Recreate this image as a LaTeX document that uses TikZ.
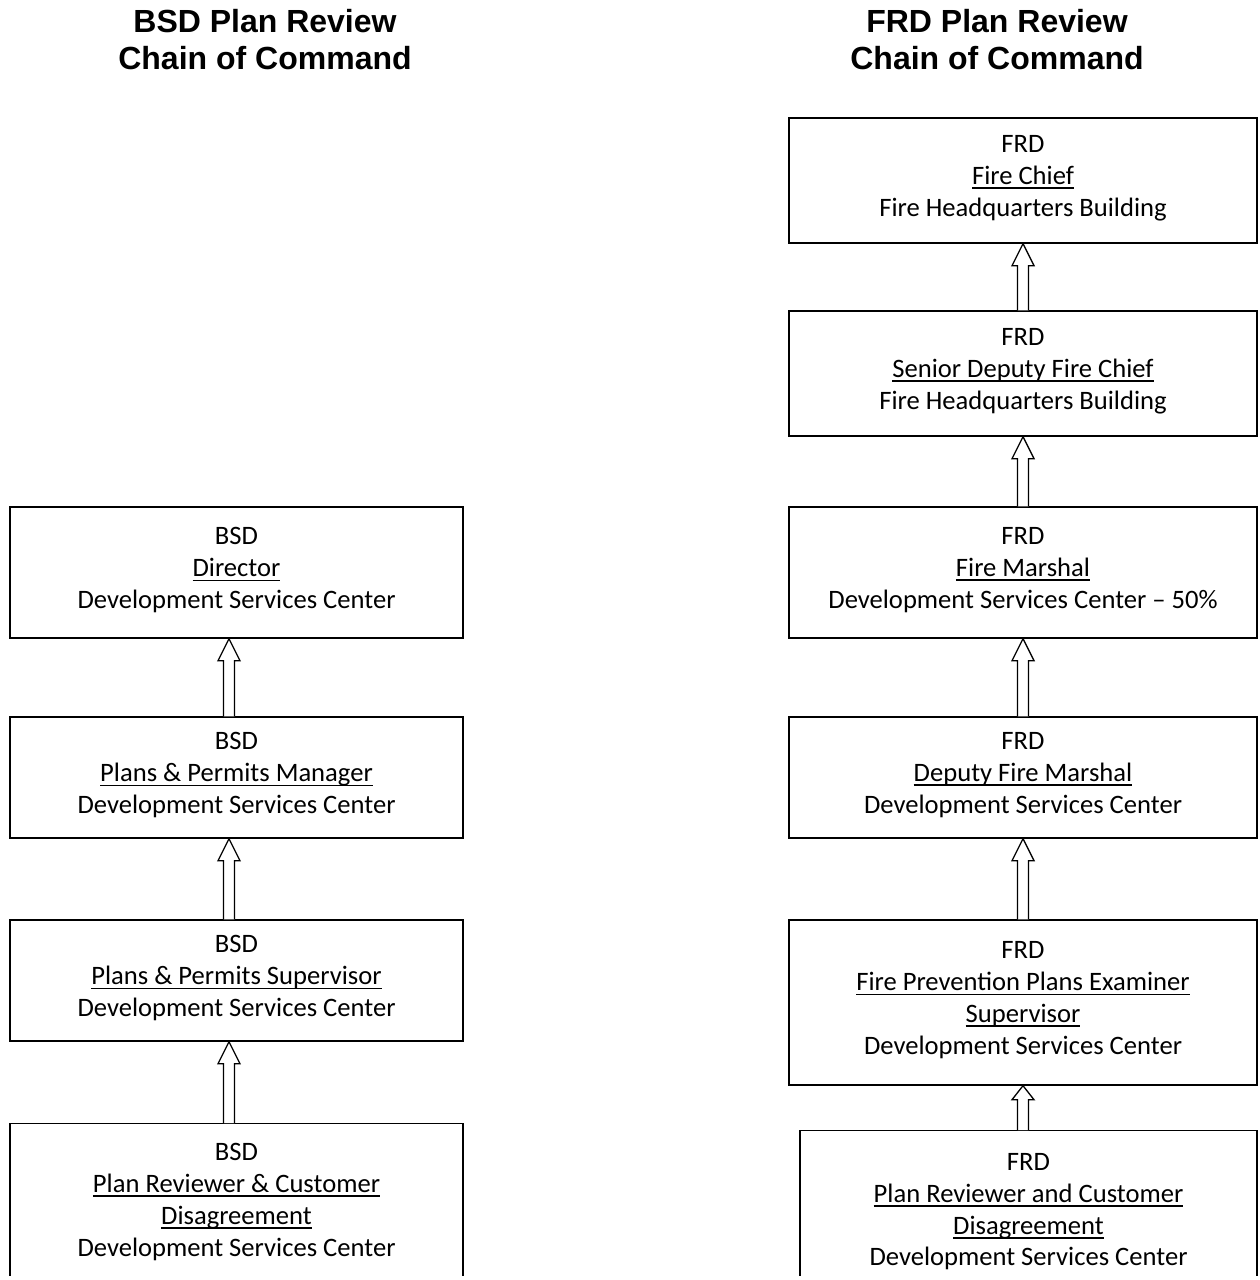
\documentclass[tikz,border=0pt]{standalone}
\usepackage{fontspec}
\setmainfont{Carlito}
\newfontfamily\titlefont{Liberation Sans}
\usetikzlibrary{calc}
\newcommand\ulx[1]{\setbox0\hbox{#1}\rlap{\rule[-4.5pt]{\wd0}{1.6pt}}\box0}
\newcommand\lowdp{\rule[-9pt]{0pt}{9pt}}
\tikzset{
  box/.style={draw, line width=1.4pt, inner sep=0pt, align=center,
    font=\fontsize{26.6}{31.8}\selectfont},
  ttl/.style={align=center, font=\titlefont\bfseries\fontsize{32}{37}\selectfont},
  harrow/.style={draw, line width=1.3pt, fill=white, line join=miter}
}
% #1 lower node, #2 upper node, #3 coordinate giving the arrow's x, #4 head height
\newcommand\hollowarrow[4]{%
  \draw[harrow] let \p1=(#1.north), \p2=(#2.south), \p3=(#3) in
    (\x3-5.5pt,\y1) -- (\x3-5.5pt,\y2-#4) -- (\x3-11pt,\y2-#4) -- (\x3,\y2)
    -- (\x3+11pt,\y2-#4) -- (\x3+5.5pt,\y2-#4) -- (\x3+5.5pt,\y1);}
\begin{document}
\begin{tikzpicture}[x=1pt,y=-1pt]
\useasboundingbox[fill=white] (0,0) rectangle (1259,1280);
\clip (-5,-5) rectangle (1265,1275);
\coordinate (axl) at (229,0);
\coordinate (axr) at (1023,0);
% titles
\node[ttl] (tl) at (265,40) {BSD Plan Review\\Chain of Command};
\node[ttl] (tr) at (997,40) {FRD Plan Review\\Chain of Command};
% left column
\node[box, minimum width=453pt, minimum height=131pt] (b1) at (236.5,572.5)
  {BSD\\\ulx{Director}\\Development Services Center\lowdp};
\node[box, minimum width=453pt, minimum height=121pt] (b2) at (236.5,777.5)
  {BSD\\\ulx{Plans \& Permits Manager}\\Development Services Center\lowdp};
\node[box, minimum width=453pt, minimum height=121pt] (b3) at (236.5,980.5)
  {BSD\\\ulx{Plans \& Permits Supervisor}\\Development Services Center\lowdp};
\node[box, minimum width=453pt, minimum height=161pt, anchor=north] (b4) at (236.5,1123)
  {BSD\\\ulx{Plan Reviewer \& Customer}\\\ulx{Disagreement}\\Development Services Center\lowdp};
% right column
\node[box, minimum width=468pt, minimum height=125pt] (f1) at (1023,180.5)
  {FRD\\\ulx{Fire Chief}\\Fire Headquarters Building\lowdp};
\node[box, minimum width=468pt, minimum height=125pt] (f2) at (1023,373.5)
  {FRD\\\ulx{Senior Deputy Fire Chief}\\Fire Headquarters Building\lowdp};
\node[box, minimum width=468pt, minimum height=131pt] (f3) at (1023,572.5)
  {FRD\\\ulx{Fire Marshal}\\Development Services Center – 50\%\lowdp};
\node[box, minimum width=468pt, minimum height=121pt] (f4) at (1023,777.5)
  {FRD\\\ulx{Deputy Fire Marshal}\\Development Services Center\lowdp};
\node[box, minimum width=468pt, minimum height=165pt] (f5) at (1023,1002.5)
  {FRD\\\ulx{Fire Prevention Plans Examiner}\\\ulx{Supervisor}\\Development Services Center\lowdp};
\node[box, minimum width=457pt, minimum height=167pt, anchor=north] (f6) at (1028.5,1130)
  {FRD\\\ulx{Plan Reviewer and Customer}\\\ulx{Disagreement}\\Development Services Center\lowdp};
% arrows
\hollowarrow{b2}{b1}{axl}{22pt}
\hollowarrow{b3}{b2}{axl}{22pt}
\hollowarrow{b4}{b3}{axl}{22pt}
\hollowarrow{f2}{f1}{axr}{22pt}
\hollowarrow{f3}{f2}{axr}{22pt}
\hollowarrow{f4}{f3}{axr}{22pt}
\hollowarrow{f5}{f4}{axr}{22pt}
\hollowarrow{f6}{f5}{axr}{14pt}
\end{tikzpicture}
\end{document}
